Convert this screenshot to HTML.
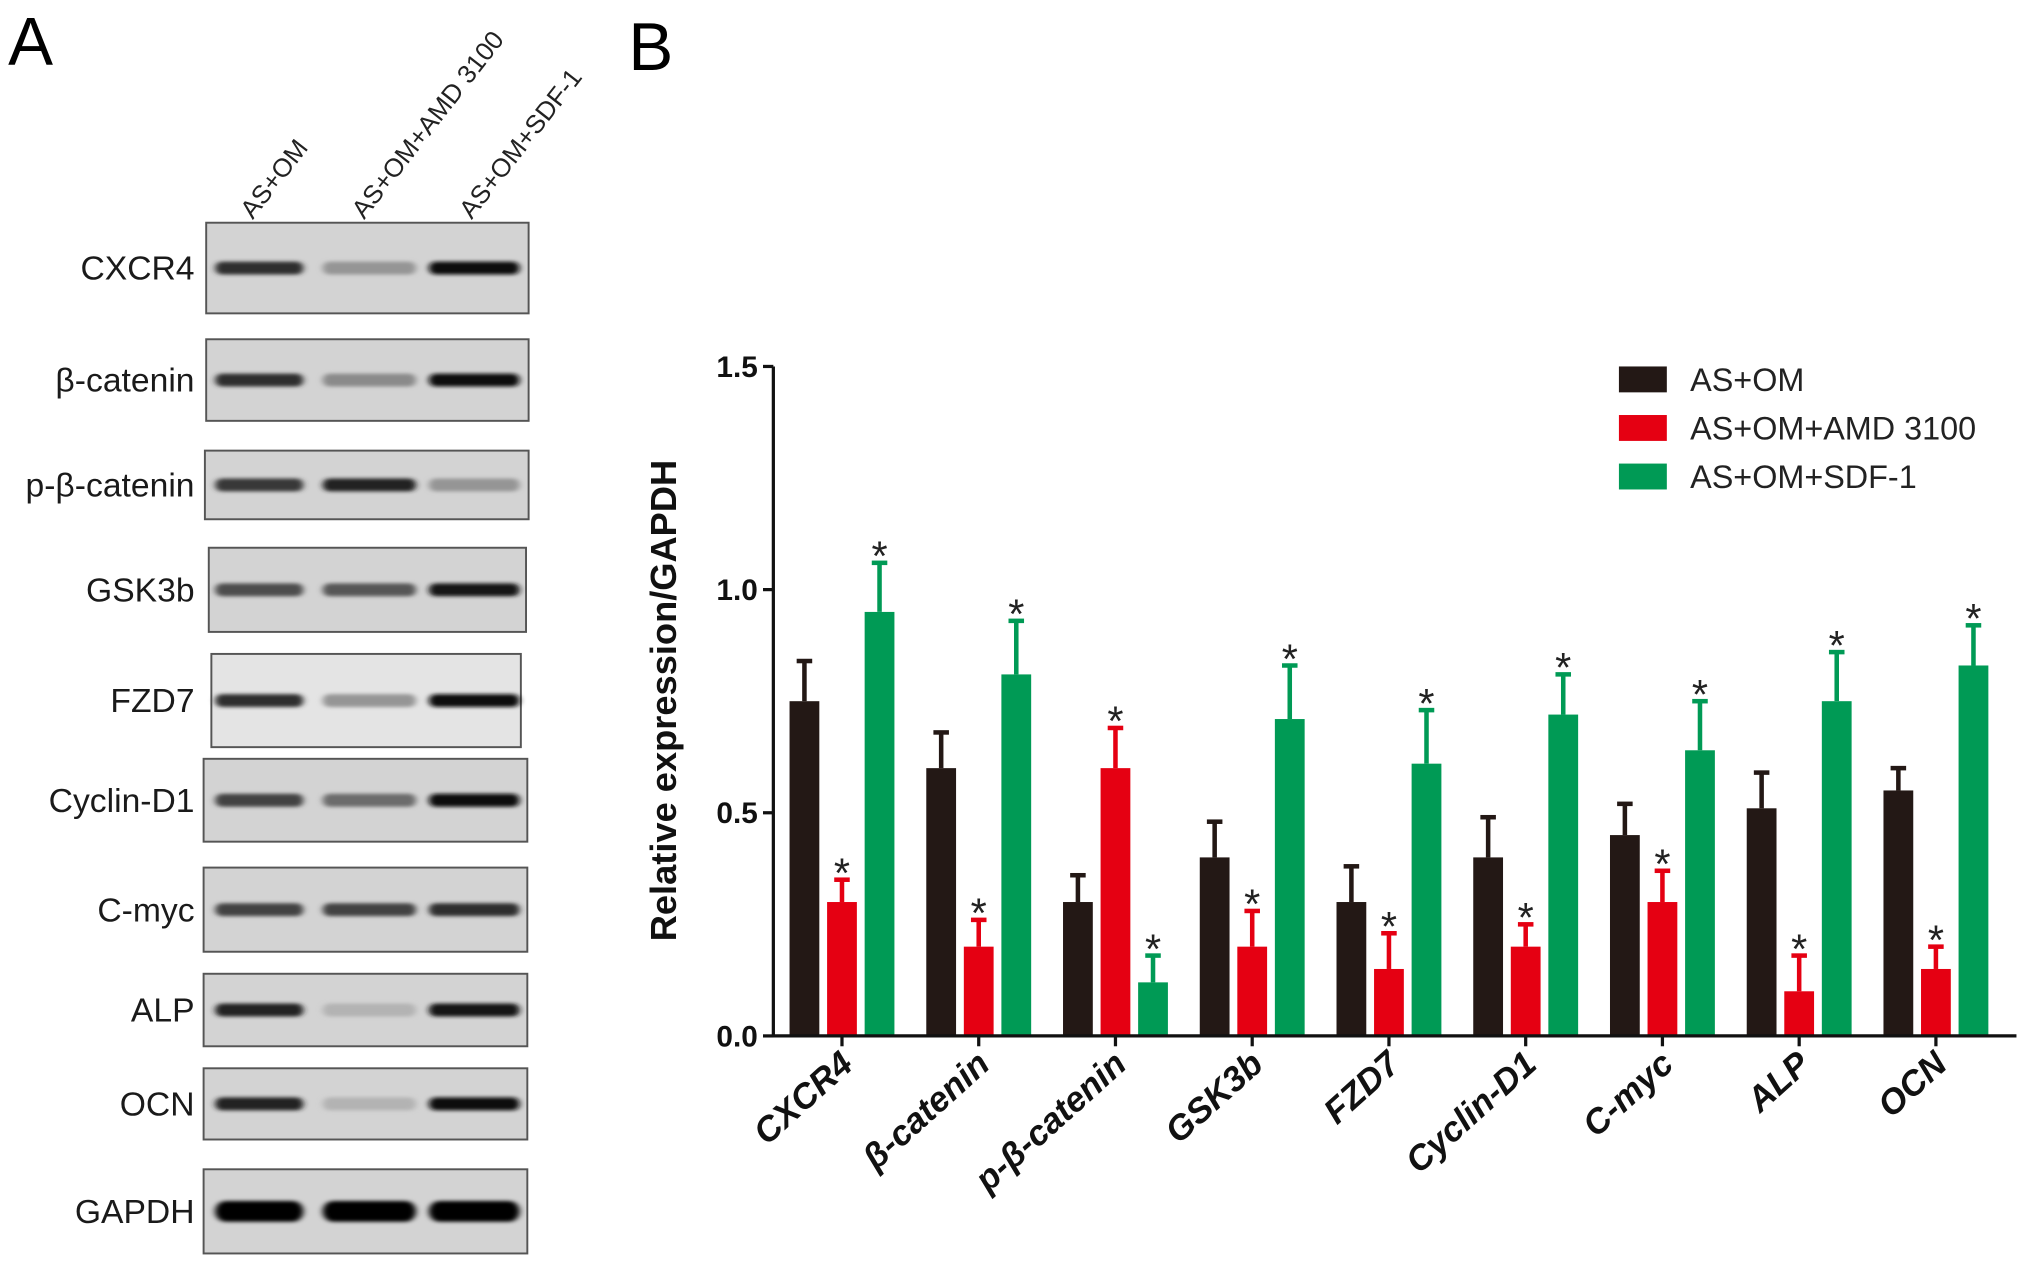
<!DOCTYPE html>
<html><head><meta charset="utf-8"><style>
html,body{margin:0;padding:0;background:#fff}
svg{display:block}
text{font-family:"Liberation Sans",Arial,sans-serif}
</style></head><body>
<svg id="fig" width="2031" height="1269" viewBox="0 0 1568 980" xmlns="http://www.w3.org/2000/svg">
<defs>
<filter id="blur" x="-20%" y="-200%" width="140%" height="500%"><feGaussianBlur stdDeviation="2.5 1.4"/></filter>
</defs>
<text x="6" y="50" font-size="52">A</text>
<text x="485" y="54" font-size="52">B</text>
<g id="panelA"></g>
<g id="panelB"></g>
</svg>
<script>
const NS="http://www.w3.org/2000/svg";
function mk(tag,attrs,parent,txt){const e=document.createElementNS(NS,tag);for(const k in attrs)e.setAttribute(k,attrs[k]);if(txt!==undefined)e.textContent=txt;parent.appendChild(e);return e;}

// ---------- Panel A: blots ----------
const blotNames=["CXCR4","β-catenin","p-β-catenin","GSK3b","FZD7","Cyclin-D1","C-myc","ALP","OCN","GAPDH"];
const blotIntensity=[[0.8,0.3,0.97],[0.8,0.35,0.97],[0.75,0.85,0.3],[0.65,0.6,0.92],[0.8,0.3,0.97],[0.7,0.5,0.97],[0.7,0.7,0.8],[0.85,0.15,0.92],[0.85,0.15,0.97],[1,1,1]];
const blotBoxes=[[159,172,249,70],[159,262,249,63],[158,348,250,53],[161,423,245,65],[163,505,239,72],[157,586,250,64],[157,670,250,65],[157,752,250,56],[157,825,250,55],[157,903,250,65]];
const laneLabels=["AS+OM","AS+OM+AMD 3100","AS+OM+SDF-1"];
const laneStartX=[195,281,364];
const A=document.getElementById('panelA');
laneLabels.forEach((l,i)=>{
  const t=mk('text',{x:laneStartX[i],y:170,'font-size':20,fill:'#222',transform:`rotate(-52 ${laneStartX[i]} 170)`},A,l);
  
  
});
const laneX=[[166,234],[249,321],[331,401]];
blotNames.forEach((n,i)=>{
  const [x,y,w,h]=blotBoxes[i];
  const r=mk('rect',{x:x,y:y,width:w,height:h,fill:i==4?'#e4e4e4':'#d3d3d3',stroke:'#555',"stroke-width":1.5},A);
  
  
  const cy=y+h*0.5;
  laneX.forEach((lx,j)=>{
    const v=blotIntensity[i][j];
    const g=Math.round(210-205*v);
    const e=mk('rect',{x:lx[0],y:cy-(i==9?8:5),width:lx[1]-lx[0],height:i==9?16:10,rx:i==9?8:5,fill:`rgb(${g},${g},${g})`,filter:'url(#blur)'},A);
    
    
  });
  const t=mk('text',{x:150,y:cy+9,'font-size':26,'text-anchor':'end',fill:'#1a1a1a'},A,n);
  
  
});

// ---------- Panel B: chart ----------
const categories=["CXCR4","β-catenin","p-β-catenin","GSK3b","FZD7","Cyclin-D1","C-myc","ALP","OCN"];
const seriesNames=["AS+OM","AS+OM+AMD 3100","AS+OM+SDF-1"];
const valsOM=[0.75,0.60,0.30,0.40,0.30,0.40,0.45,0.51,0.55];
const errOM=[0.09,0.08,0.06,0.08,0.08,0.09,0.07,0.08,0.05];
const valsAMD=[0.30,0.20,0.60,0.20,0.15,0.20,0.30,0.10,0.15];
const errAMD=[0.05,0.06,0.09,0.08,0.08,0.05,0.07,0.08,0.05];
const valsSDF=[0.95,0.81,0.12,0.71,0.61,0.72,0.64,0.75,0.83];
const errSDF=[0.11,0.12,0.06,0.12,0.12,0.09,0.11,0.11,0.09];
const starOM=[0,0,0,0,0,0,0,0,0];
const starAMD=[1,1,1,1,1,1,1,1,1];
const starSDF=[1,1,1,1,1,1,1,1,1];
const yTicks=[0.0,0.5,1.0,1.5];
const yTickLabels=["0.0","0.5","1.0","1.5"];
const colors=["#231815","#e50012","#009a55"];

const B=document.getElementById('panelB');
const X0=597,Y0=800,YTOP=283,XEND=1557,YMAX=1.5;
const y=v=>Y0-v*(Y0-YTOP)/YMAX;
const x=i=>650+i*105.6;
const off=[-29,0,29],BW=23;

const series=[[valsOM,errOM,starOM],[valsAMD,errAMD,starAMD],[valsSDF,errSDF,starSDF]];
categories.forEach((c,i)=>{
  series.forEach((s,k)=>{
    const v=s[0][i],e=s[1][i],cx=x(i)+off[k];
    const b=mk('rect',{x:cx-BW/2,y:y(v),width:BW,height:Y0-y(v),fill:colors[k]},B);
    
    
    const l=mk('line',{x1:cx,x2:cx,y1:y(v),y2:y(v+e),stroke:colors[k],'stroke-width':3.5},B);
    
    
    const cap=mk('line',{x1:cx-6,x2:cx+6,y1:y(v+e),y2:y(v+e),stroke:colors[k],'stroke-width':3.5},B);
    
    
    if(s[2][i]){
      const st=mk('text',{x:cx,y:y(v+e)+6,'font-size':32,'text-anchor':'middle',fill:'#222'},B,'*');
      
      
    }
  });
  const tk=mk('line',{x1:x(i),x2:x(i),y1:Y0,y2:Y0+8,stroke:'#111','stroke-width':2.5},B);
  
  
  const tl=mk('text',{x:x(i)+10,y:Y0+24,'font-size':27,'font-weight':'bold','font-style':'italic','text-anchor':'end',fill:'#111',transform:`rotate(-42 ${x(i)+10} ${Y0+24})`},B,c);
  
  
});
const ax=mk('line',{x1:X0,x2:X0,y1:YTOP,y2:Y0+1,stroke:'#111','stroke-width':2.5},B);


const xa=mk('line',{x1:X0-1,x2:XEND,y1:Y0,y2:Y0,stroke:'#111','stroke-width':2.5},B);


yTicks.forEach((t,i)=>{
  const l=mk('line',{x1:X0-8,x2:X0,y1:y(t),y2:y(t),stroke:'#111','stroke-width':2.5},B);
  
  
  const tx=mk('text',{x:X0-12,y:y(t)+8,'font-size':23,'font-weight':'bold','text-anchor':'end',fill:'#111'},B,yTickLabels[i]);
  
  
});
const yt=mk('text',{x:522,y:541,'font-size':28,'font-weight':'bold','text-anchor':'middle',fill:'#111',transform:'rotate(-90 522 541)'},B,'Relative expression/GAPDH');


seriesNames.forEach((n,k)=>{
  const ly=283+k*37.5;
  const r=mk('rect',{x:1250,y:ly,width:37,height:20,fill:colors[k]},B);
  
  
  const t=mk('text',{x:1305,y:ly+19,'font-size':25,fill:'#222'},B,n);
  
  
});
</script>
</body></html>
